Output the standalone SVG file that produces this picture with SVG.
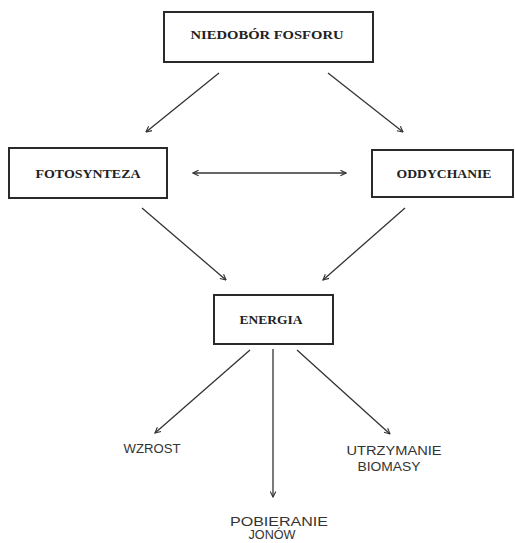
<svg xmlns="http://www.w3.org/2000/svg" width="515" height="543" viewBox="0 0 515 543">
<style>
.box{fill:#fff;stroke:#2a2a2a;stroke-width:2}
.bl{font-family:"Liberation Serif",serif;font-weight:bold;font-size:13px;fill:#222;text-anchor:middle}
.ol{font-family:"Liberation Sans",sans-serif;font-size:12px;fill:#333;text-anchor:middle}
.c{stroke:#333;stroke-width:1.3;fill:none;marker-end:url(#ah)}
</style>
<defs>
<marker id="ah" viewBox="0 0 10 10" refX="9" refY="5" markerWidth="7" markerHeight="7" orient="auto-start-reverse" markerUnits="userSpaceOnUse">
<path d="M1,1 L9,5 L1,9" fill="none" stroke="#333" stroke-width="1.6"/>
</marker>
</defs>
<rect width="515" height="543" fill="#fff"/>
<g id="connectors">
<line class="c" x1="219" y1="73" x2="146" y2="132"/>
<line class="c" x1="328" y1="73" x2="403" y2="132"/>
<line class="c" x1="193" y1="173" x2="346" y2="173" marker-start="url(#ah)"/>
<line class="c" x1="142" y1="208" x2="226" y2="280"/>
<line class="c" x1="405" y1="208" x2="323" y2="280"/>
<line class="c" x1="250" y1="350" x2="155" y2="433"/>
<line class="c" x1="273" y1="349" x2="273" y2="497"/>
<line class="c" x1="297" y1="350" x2="390" y2="434"/>
</g>
<g id="niedobor">
<rect class="box" x="164" y="12" width="209" height="50"/>
<text class="bl" x="267" y="39" textLength="153" lengthAdjust="spacingAndGlyphs">NIEDOBÓR FOSFORU</text>
</g>
<g id="fotosynteza">
<rect class="box" x="9" y="148" width="158" height="50"/>
<text class="bl" x="88" y="178" textLength="105" lengthAdjust="spacingAndGlyphs">FOTOSYNTEZA</text>
</g>
<g id="oddychanie">
<rect class="box" x="372" y="150" width="141" height="47"/>
<text class="bl" x="444" y="178" textLength="95" lengthAdjust="spacingAndGlyphs">ODDYCHANIE</text>
</g>
<g id="energia">
<rect class="box" x="214" y="295" width="119" height="49"/>
<text class="bl" x="271" y="324" textLength="63" lengthAdjust="spacingAndGlyphs">ENERGIA</text>
</g>
<g id="wzrost">
<text class="ol" x="152" y="453" textLength="57" lengthAdjust="spacingAndGlyphs">WZROST</text>
</g>
<g id="utrzymanie">
<text class="ol" x="394" y="455" textLength="95" lengthAdjust="spacingAndGlyphs">UTRZYMANIE</text>
<text class="ol" x="389" y="471" textLength="63" lengthAdjust="spacingAndGlyphs">BIOMASY</text>
</g>
<g id="pobieranie">
<text class="ol" x="279" y="526" textLength="98" lengthAdjust="spacingAndGlyphs">POBIERANIE</text>
<text class="ol" x="272" y="539" textLength="47" lengthAdjust="spacingAndGlyphs">JONÓW</text>
</g>
</svg>
